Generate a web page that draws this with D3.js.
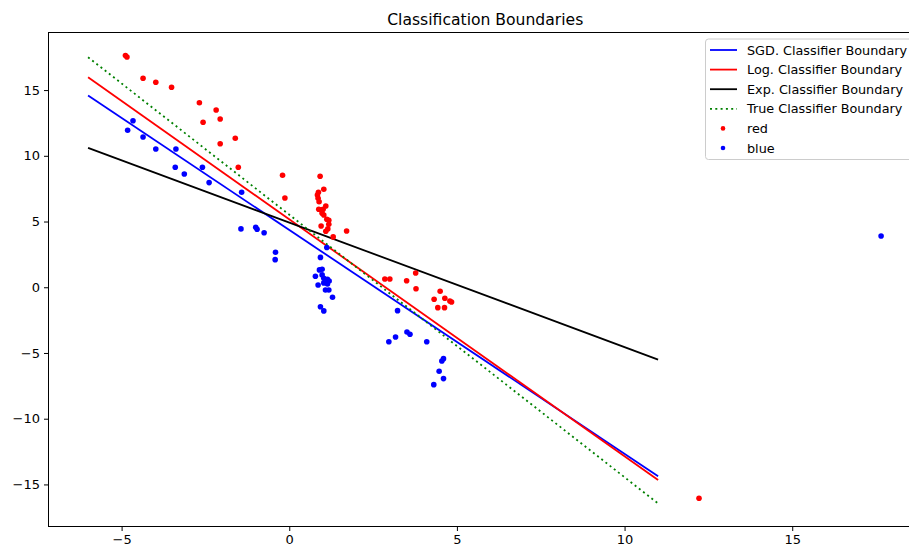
<!DOCTYPE html>
<html>
<head>
<meta charset="utf-8">
<script src="https://cdn.jsdelivr.net/npm/d3@7"></script>
<style>
  html, body { margin: 0; padding: 0; background: #ffffff; overflow: hidden; }
  svg { display: block; font-family: "DejaVu Sans", sans-serif; }
</style>
</head>
<body>
<svg id="chart" width="909" height="548"></svg>
<script>
// Boundary lines are evaluated at the two ends of the x span
const lineX = [-6, 11];
const sgdY  = [14.58, -14.38];
const logY  = [15.98, -14.66];
const expY  = [10.61, -5.50];
const trueY = [17.50, -16.45];

// Labelled sample points
const redX = [-4.885, -4.84, -4.36, -3.98, -3.51, -2.68, -2.18, -2.57, -2.06, -1.61, -2.06, -1.52,
  -0.20, -0.13, 0.92, 1.03, 0.87, 0.84, 0.86, 0.89, 1.09, 0.88, 0.95, 1.01, 0.98, 1.03, 1.12, 1.18,
  1.18, 0.95, 1.15, 1.09, 1.31, 1.71, 2.85, 3.00, 3.50, 3.77, 3.78, 4.50, 4.32, 4.64, 4.79, 4.84,
  4.43, 4.63, 12.22];
const redY = [17.63, 17.52, 15.90, 15.60, 15.21, 14.04, 13.49, 12.55, 12.80, 11.34, 10.92, 9.13,
  8.52, 6.79, 8.44, 7.46, 7.23, 7.02, 6.77, 6.51, 6.18, 5.93, 5.88, 5.93, 5.63, 5.50, 5.17, 5.10,
  4.79, 4.66, 4.44, 4.26, 3.83, 4.28, 0.63, 0.63, 0.50, 1.09, -0.11, -0.30, -0.91, -0.84, -1.04, -1.12,
  -1.55, -1.55, -16.05];

const blueX = [-4.66, -4.82, -4.36, -3.98, -3.38, -3.40, -3.13, -2.59, -2.39, -1.42, -1.44, -1.00,
  -0.96, -0.75, -0.41, -0.42, 1.12, 0.93, 0.90, 0.98, 0.78, 0.98, 1.03, 1.14, 1.19, 0.86, 1.03, 1.14,
  1.08, 1.18, 1.29, 0.93, 1.03, 3.23, 2.97, 3.17, 3.51, 3.60, 4.10, 4.60, 4.55, 4.47, 4.60, 4.31, 17.65];
const blueY = [12.67, 11.94, 11.43, 10.52, 10.52, 9.13, 8.62, 9.13, 7.96, 7.23, 4.44, 4.56,
  4.41, 4.15, 2.66, 2.10, 3.03, 2.27, 1.32, 1.37, 0.84, 0.94, 0.68, 0.61, 0.48, 0.17, 0.33, 0.25,
  -0.21, -0.21, -0.76, -1.48, -1.80, -1.78, -4.14, -3.78, -3.40, -3.58, -4.14, -5.43, -5.61, -6.39, -6.95, -7.41, 3.90];

const xTicks = [-5, 0, 5, 10, 15];
const yTicks = [-15, -10, -5, 0, 5, 10, 15];

const series = [
  { name: "SGD. Classifier Boundary", ys: sgdY, color: "#0000ff", dash: null },
  { name: "Log. Classifier Boundary", ys: logY, color: "#ff0000", dash: null },
  { name: "Exp. Classifier Boundary", ys: expY, color: "#000000", dash: null },
  { name: "True Classifier Boundary", ys: trueY, color: "#008000", dash: "2,3.3" }
];
const groups = [
  { name: "red", xs: redX, ys: redY, color: "#ff0000" },
  { name: "blue", xs: blueX, ys: blueY, color: "#0000ff" }
];

const svg = d3.select("#chart");
const plot = { left: 48.5, right: 922, top: 32.5, bottom: 526.5 };

const x = d3.scaleLinear().domain([-7.18, 18.87]).range([plot.left, plot.right]);
const y = d3.scaleLinear().domain([-18.2, 19.38]).range([plot.bottom, plot.top]);

// Title
svg.append("text")
  .attr("x", (plot.left + plot.right) / 2)
  .attr("y", 25)
  .attr("text-anchor", "middle")
  .attr("font-size", "15.6px")
  .attr("fill", "#000")
  .text("Classification Boundaries");

// Axes
const fmt = d => d < 0 ? "\u2212" + Math.abs(d) : d;
const xAxis = d3.axisBottom(x).tickValues(xTicks).tickSize(4.5).tickPadding(4).tickFormat(fmt);
const yAxis = d3.axisLeft(y).tickValues(yTicks).tickSize(4.5).tickPadding(4).tickFormat(fmt);

const gx = svg.append("g").attr("transform", `translate(0,${plot.bottom})`).call(xAxis);
const gy = svg.append("g").attr("transform", `translate(${plot.left},0)`).call(yAxis);
[gx, gy].forEach(g => {
  g.select(".domain").remove();
  g.selectAll(".tick line").attr("stroke", "#000").attr("stroke-width", 1);
  g.selectAll(".tick text").attr("font-size", "13px").attr("fill", "#000")
    .attr("font-family", "DejaVu Sans, sans-serif");
});

// Spines
svg.append("rect")
  .attr("x", plot.left).attr("y", plot.top)
  .attr("width", plot.right - plot.left).attr("height", plot.bottom - plot.top)
  .attr("fill", "none").attr("stroke", "#000").attr("stroke-width", 1);

// Clip for data marks
svg.append("clipPath").attr("id", "clip")
  .append("rect").attr("x", plot.left).attr("y", plot.top)
  .attr("width", plot.right - plot.left).attr("height", plot.bottom - plot.top);
const data = svg.append("g").attr("clip-path", "url(#clip)");

const line = d3.line().x(d => x(d[0])).y(d => y(d[1]));
series.forEach(s => {
  data.append("path")
    .datum(lineX.map((v, i) => [v, s.ys[i]]))
    .attr("d", line)
    .attr("fill", "none")
    .attr("stroke", s.color)
    .attr("stroke-width", 1.8)
    .attr("stroke-dasharray", s.dash);
});

groups.forEach(g => {
  data.append("g").selectAll("circle")
    .data(g.xs.map((v, i) => [v, g.ys[i]]))
    .join("circle")
    .attr("cx", d => x(d[0]))
    .attr("cy", d => y(d[1]))
    .attr("r", 2.8)
    .attr("fill", g.color);
});

// Legend
const leg = svg.append("g");
leg.append("rect")
  .attr("x", 705.5).attr("y", 39).attr("width", 215).attr("height", 120.5)
  .attr("rx", 3).attr("fill", "#ffffff").attr("fill-opacity", 0.8)
  .attr("stroke", "#cccccc").attr("stroke-width", 1);
const rowY = i => 50 + i * 19.6;
series.forEach((s, i) => {
  leg.append("line")
    .attr("x1", 710).attr("x2", 737).attr("y1", rowY(i)).attr("y2", rowY(i))
    .attr("stroke", s.color).attr("stroke-width", 1.8)
    .attr("stroke-dasharray", s.dash);
  leg.append("text").attr("x", 747).attr("y", rowY(i)).attr("dy", "0.36em")
    .attr("font-size", "12.8px").attr("fill", "#000").text(s.name);
});
groups.forEach((g, j) => {
  const i = series.length + j;
  leg.append("circle").attr("cx", 723).attr("cy", rowY(i)).attr("r", 2.3).attr("fill", g.color);
  leg.append("text").attr("x", 747).attr("y", rowY(i)).attr("dy", "0.36em")
    .attr("font-size", "12.8px").attr("fill", "#000").text(g.name);
});
</script>
</body>
</html>
